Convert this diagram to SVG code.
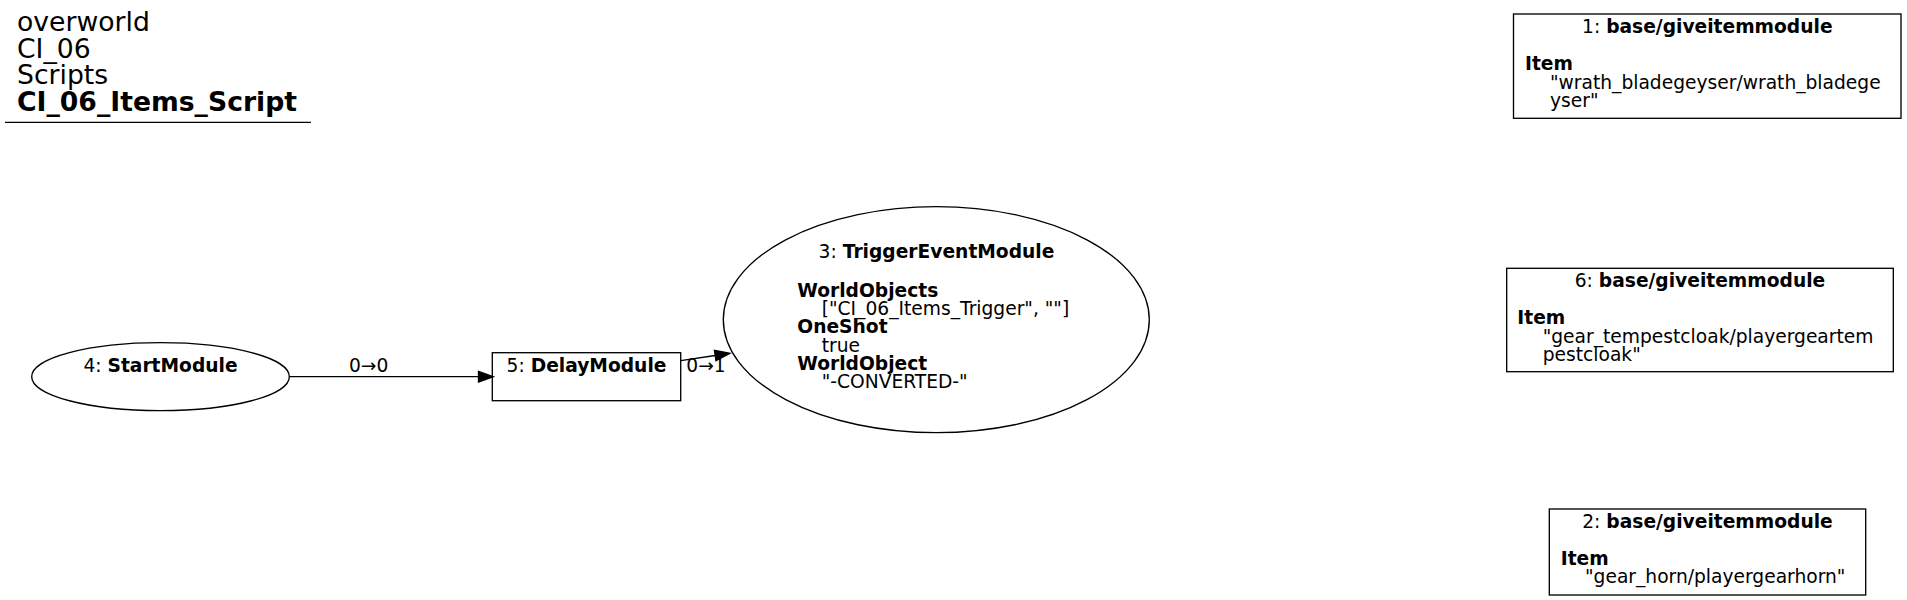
<svg xmlns="http://www.w3.org/2000/svg" width="1907" height="600" viewBox="0 0 1907 600">
<style>
text{font-family:"DejaVu Sans","Liberation Sans",sans-serif;font-size:18.67px;fill:#000}
.t{font-size:26.67px}
.b{font-weight:bold}
.c{text-anchor:middle}
.shape{fill:none;stroke:#000;stroke-width:1.33}
.edge{fill:none;stroke:#000;stroke-width:1.33}
.head{fill:#000;stroke:#000;stroke-width:1.33}
</style>
<rect width="1907" height="600" fill="#fff"/>
<g id="title">
<text class="t" x="17" y="31">overworld</text>
<text class="t" x="17" y="57.5">CI_06</text>
<text class="t" x="17" y="84">Scripts</text>
<text class="t b" x="17" y="110.5">CI_06_Items_Script</text>
<line x1="5" y1="122.3" x2="311" y2="122.3" stroke="#000" stroke-width="1.33"/>
</g>
<g id="connectors">
<g id="e4_5">
<line class="edge" x1="289.3" y1="376.7" x2="478.5" y2="376.7"/>
<polygon class="head" points="478.5,371.5 493.3,376.7 478.5,382"/>
<text class="c" x="368.7" y="371.7">0→0</text>
</g>
<g id="e5_3">
<line class="edge" x1="680.7" y1="360.7" x2="715.2" y2="355.5"/>
<polygon class="head" points="716,360.7 730,353.3 714.4,350.3"/>
<text class="c" x="706" y="371.7">0→1</text>
</g>
</g>
<g id="node4">
<ellipse class="shape" cx="160.5" cy="376.7" rx="128.8" ry="34"/>
<text class="c" x="160.5" y="371.7">4: <tspan class="b">StartModule</tspan></text>
</g>
<g id="node5">
<rect class="shape" x="492.3" y="352.7" width="188.4" height="48"/>
<text class="c" x="586.5" y="371.7">5: <tspan class="b">DelayModule</tspan></text>
</g>
<g id="node3">
<ellipse class="shape" cx="936.3" cy="319.7" rx="213" ry="113"/>
<text class="c" x="936.5" y="258.3">3: <tspan class="b">TriggerEventModule</tspan></text>
<text class="b" x="797.3" y="296.7">WorldObjects</text>
<text x="821.7" y="315">["CI_06_Items_Trigger", ""]</text>
<text class="b" x="797.3" y="333.3">OneShot</text>
<text x="821.7" y="351.6">true</text>
<text class="b" x="797.3" y="370">WorldObject</text>
<text x="821.7" y="388.3">"-CONVERTED-"</text>
</g>
<g id="node1">
<rect class="shape" x="1513.5" y="14" width="387.5" height="104.3"/>
<text class="c" x="1707.3" y="33">1: <tspan class="b">base/giveitemmodule</tspan></text>
<text class="b" x="1525" y="70">Item</text>
<text x="1550" y="88.5">"wrath_bladegeyser/wrath_bladege</text>
<text x="1550" y="107">yser"</text>
</g>
<g id="node6">
<rect class="shape" x="1506.7" y="268.3" width="386.6" height="103.4"/>
<text class="c" x="1700" y="287">6: <tspan class="b">base/giveitemmodule</tspan></text>
<text class="b" x="1517.3" y="324">Item</text>
<text x="1542.7" y="342.5">"gear_tempestcloak/playergeartem</text>
<text x="1542.7" y="361">pestcloak"</text>
</g>
<g id="node2">
<rect class="shape" x="1549.3" y="509" width="316.4" height="86"/>
<text class="c" x="1707.5" y="528">2: <tspan class="b">base/giveitemmodule</tspan></text>
<text class="b" x="1560.7" y="564.5">Item</text>
<text x="1585" y="583">"gear_horn/playergearhorn"</text>
</g>
</svg>
